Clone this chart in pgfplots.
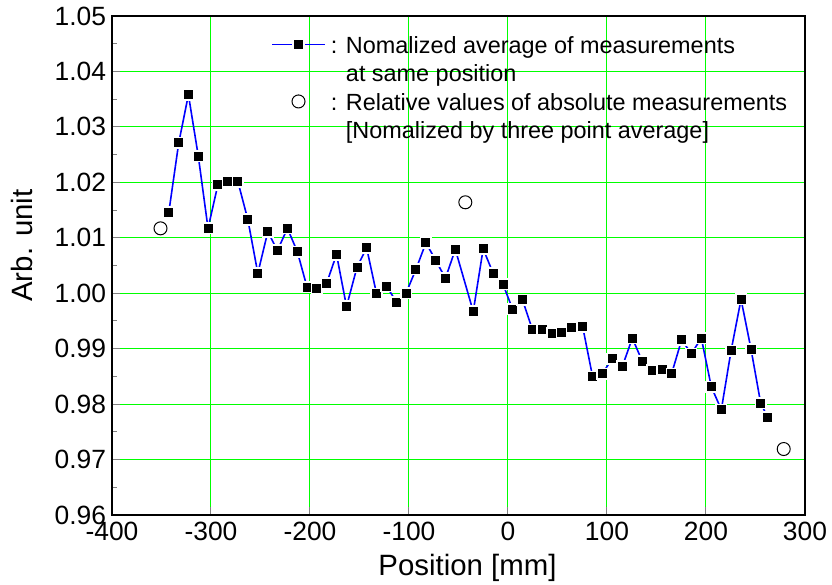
\documentclass[border=0pt]{standalone}
\usepackage{fontspec}
\setmainfont{Liberation Sans}
\usepackage{pgfplots}
\usepackage{pgfplotstable}
\pgfplotsset{compat=1.18}
\definecolor{gridgreen}{RGB}{0,255,0}
\definecolor{lineblue}{RGB}{0,0,255}

\pgfplotsset{
  sqlegend/.style={legend image code/.code={\draw[##1,mark repeat=2,mark phase=2] plot coordinates {(0cm,0cm) (0.935cm,0cm) (1.87cm,0cm)};}},
  circlegend/.style={legend image code/.code={\draw[##1] plot coordinates {(0.935cm,0cm)};}},
}

\pgfplotstableread{
x y
-342.6 1.0146
-332.6 1.0271
-322.8 1.0358
-312.8 1.0247
-303.0 1.0117
-293.0 1.0196
-282.9 1.0201
-272.8 1.0201
-262.8 1.0133
-252.7 1.0036
-242.6 1.0111
-232.9 1.0077
-222.8 1.0117
-212.8 1.0075
-203.0 1.0011
-193.0 1.0008
-183.2 1.0018
-173.2 1.0070
-163.1 0.9976
-152.5 1.0047
-142.8 1.0082
-132.8 0.9999
-122.7 1.0013
-112.7 0.9984
-103.0 1.0000
-93.0 1.0043
-82.9 1.0091
-72.9 1.0059
-63.2 1.0027
-53.2 1.0079
-35.1 0.9967
-25.1 1.0080
-15.0 1.0036
-5.0 1.0016
4.7 0.9971
14.7 0.9988
24.7 0.9934
34.8 0.9934
44.8 0.9928
54.5 0.9929
64.5 0.9938
75.4 0.9940
85.5 0.9849
95.3 0.9855
105.4 0.9882
115.5 0.9868
125.6 0.9919
135.7 0.9877
145.5 0.9861
155.6 0.9863
165.3 0.9855
175.4 0.9916
185.2 0.9891
195.3 0.9919
205.4 0.9831
215.5 0.9790
225.3 0.9896
235.4 0.9989
245.5 0.9899
255.2 0.9802
262.3 0.9776
}\avgdata

\pgfplotstableread{
x y
-351.0 1.0117
-43.1 1.0164
278.5 0.9719
}\absdata

\begin{document}
\begin{tikzpicture}
\begin{axis}[
  name=ax,
  scale only axis, width=693bp, height=499bp,
  xmin=-400, xmax=300, ymin=0.96, ymax=1.05,
  xtick={-400,-300,-200,-100,0,100,200,300},
  xticklabels={-400,-300,-200,-100,0,100,200,300},
  ytick={0.96,0.97,0.98,0.99,1.00,1.01,1.02,1.03,1.04,1.05},
  yticklabels={0.96,0.97,0.98,0.99,1.00,1.01,1.02,1.03,1.04,1.05},
  minor ytick={0.965,0.975,0.985,0.995,1.005,1.015,1.025,1.035,1.045},
  tick align=inside, xtick pos=bottom, ytick pos=left,
  major tick length=8bp, minor tick length=5bp,
  tick style={line width=1bp},
  axis line style={line width=1.5bp},
  grid=major, major grid style={draw=gridgreen, line width=1bp},
  ticklabel style={font=\fontsize{26.5}{30}\selectfont},
  yticklabel style={xshift=-2.5bp},
  xticklabel style={yshift=-3.5bp},
  xlabel={Position [mm]}, ylabel={Arb. unit},
  label style={font=\fontsize{29.5}{33}\selectfont},
  xlabel style={at={([xshift=9bp,yshift=-60bp]axis description cs:0.5,0)}, anchor=base},
  ylabel style={at={([xshift=-79bp]axis description cs:0,0.54)}, anchor=base},
  legend style={at={([xshift=159bp,yshift=-14bp]axis description cs:0,1)}, anchor=north west,
    draw=none, fill=none, inner sep=0pt, row sep=0pt, column sep=5bp,
    font=\fontsize{23.5}{28}\selectfont,
    nodes={inner xsep=0pt, inner ysep=2.75bp, text height=20.5bp, text depth=2.5bp}},
  legend cell align=left,
]
\addplot[lineblue, line width=1.6bp, mark=square*, mark size=5.3bp,
  mark options={fill=black, draw=white, line width=1.6bp, solid}, sqlegend]
  table[x=x,y=y] {\avgdata};
\addlegendentry{: Nomalized average of measurements}
\addlegendimage{empty legend}
\addlegendentry{\hphantom{: }at same position}
\addplot[only marks, mark=o, mark size=6.5bp, mark options={black, line width=1bp}, circlegend]
  table[x=x,y=y] {\absdata};
\addlegendentry{: Relative values of absolute measurements}
\addlegendimage{empty legend}
\addlegendentry{\hphantom{: }[Nomalized by three point average]}
\end{axis}
\pgfresetboundingbox
\path[use as bounding box] (ax.south west) ++(-112bp,-70bp) rectangle ++(832bp,585bp);
\end{tikzpicture}
\end{document}
